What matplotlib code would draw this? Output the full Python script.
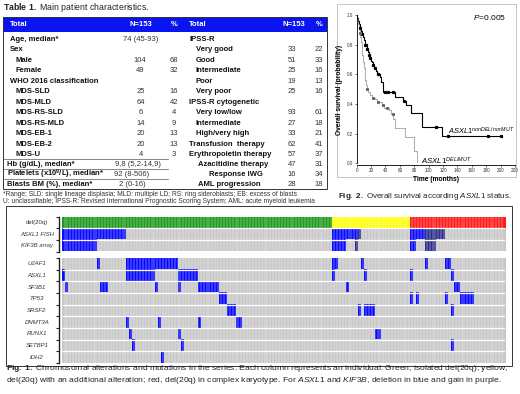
import matplotlib
matplotlib.use('Agg')
import matplotlib.pyplot as plt
import numpy as np
from matplotlib.colors import ListedColormap, BoundaryNorm
from matplotlib.patches import Rectangle

plt.rcParams['font.family'] = ['Liberation Sans', 'DejaVu Sans']
plt.rcParams['mathtext.fontset'] = 'custom'
plt.rcParams['mathtext.rm'] = 'Liberation Sans'
plt.rcParams['mathtext.it'] = 'Liberation Sans:italic'
plt.rcParams['mathtext.bf'] = 'Liberation Sans:bold'

# ---------------- Table data ----------------
left_labels = ["Age, median*", "Sex", "Male", "Female", "WHO 2016 classification",
               "MDS-SLD", "MDS-MLD", "MDS-RS-SLD", "MDS-RS-MLD", "MDS-EB-1", "MDS-EB-2",
               "MDS-U", "Hb (g/dL), median*", r"Platelets (x10$^\mathbf{9}$/L), median*",
               "Blasts BM (%), median*"]
left_indent = [0, 0, 1, 1, 0, 1, 1, 1, 1, 1, 1, 1, 0, 0, 0]
left_n = ["74 (45-93)", "", "104", "49", "", "25", "64", "6", "14", "20", "20", "4",
          "9,8 (5,2-14,9)", "92 (8-506)", "2 (0-16)"]
left_pct = ["", "", "68", "32", "", "16", "42", "4", "9", "13", "13", "3", "", "", ""]

right_labels = ["IPSS-R", "Very good", "Good", "Intermediate", "Poor", "Very poor",
                "IPSS-R cytogenetic", "Very low/low", "Intermediate", "High/very high",
                "Transfusion  therapy", "Erythropoietin therapy", "Azacitidine therapy",
                "Response IWG", "AML progression"]
right_indent = [0, 1, 1, 1, 1, 1, 0, 1, 1, 1, 0, 0, 1, 2, 1]
right_n = ["", "33", "51", "25", "19", "25", "", "93", "27", "33", "62", "57", "47", "16", "28"]
right_pct = ["", "22", "33", "16", "13", "16", "", "61", "18", "21", "41", "37", "31", "34", "18"]

# ---------------- Survival data ----------------
solid_t = [0, 1, 2, 3, 4, 5, 6, 7, 8, 9, 10, 11, 12, 14, 15, 16, 17, 18, 20, 21, 22, 24,
           27, 28, 32, 34, 36, 37, 53, 64, 69, 75, 91, 118]
solid_s = [1.0, 0.98, 0.96, 0.94, 0.93, 0.91, 0.89, 0.88, 0.87, 0.85, 0.83, 0.82, 0.80,
           0.79, 0.77, 0.75, 0.73, 0.71, 0.69, 0.68, 0.66, 0.64, 0.62, 0.60, 0.58, 0.55,
           0.52, 0.48, 0.45, 0.42, 0.39, 0.34, 0.245, 0.185]
solid_end = 200
solid_censor = [5, 8, 12, 13, 15, 17, 19, 23, 26, 30, 40, 44, 51, 66, 110, 127, 183, 200]

dotted_t = [0, 1, 2, 3, 4, 5, 6, 7, 8, 9, 10, 11, 12, 13, 14, 16, 18, 21, 25, 28, 35, 38,
            45, 48, 51, 53, 67, 80, 84]
dotted_s = [1.0, 0.97, 0.94, 0.91, 0.88, 0.85, 0.82, 0.78, 0.73, 0.68, 0.64, 0.60, 0.56,
            0.53, 0.50, 0.48, 0.46, 0.44, 0.43, 0.41, 0.39, 0.37, 0.36, 0.33, 0.30, 0.24,
            0.18, 0.083, 0.0]
dotted_censor = [4, 15, 22, 30, 37, 42, 50]

# ---------------- Heatmap data ----------------
group_counts = [93, 27, 33]            # green, yellow, red patients
top_rows = ["del(20q)", "ASXL1 FISH", "KIF3B array"]
asxl1_fish_del = [(0, 21), (93, 101), (120, 124)]
asxl1_fish_gain = [(102, 102), (125, 131)]
kif3b_del = [(0, 11), (93, 97), (120, 121)]
kif3b_gain = [(101, 101), (125, 128)]

genes = ["U2AF1", "ASXL1", "SF3B1", "TP53", "SRSF2", "DNMT3A", "RUNX1", "SETBP1", "IDH2"]
gene_mut = {
    "U2AF1": [(12, 12), (22, 39), (93, 94), (103, 103), (125, 125), (132, 133)],
    "ASXL1": [(0, 0), (22, 31), (40, 46), (93, 93), (104, 104), (120, 120), (134, 134)],
    "SF3B1": [(1, 1), (13, 15), (32, 32), (40, 40), (47, 53), (98, 98), (135, 136)],
    "TP53": [(54, 56), (120, 120), (122, 122), (132, 132), (137, 141)],
    "SRSF2": [(57, 59), (102, 102), (104, 107), (134, 134)],
    "DNMT3A": [(22, 22), (33, 33), (47, 47), (60, 61)],
    "RUNX1": [(23, 23), (40, 40), (108, 109)],
    "SETBP1": [(24, 24), (41, 41), (134, 134)],
    "IDH2": [(34, 34)],
}

# ---------------- Figure ----------------
W, H = 520, 394
fig = plt.figure(figsize=(W / 100, H / 100), dpi=100)
ax0 = fig.add_axes([0, 0, 1, 1])
ax0.set_xlim(0, W)
ax0.set_ylim(H, 0)
ax0.axis('off')

def T(x, y, s, **kw):
    kw.setdefault('va', 'center')
    kw.setdefault('fontsize', 5.5)
    ax0.text(x, y, s, **kw)

# ---- Table ----
T(3, 7, r"$\mathbf{Table\ 1.}$ Main patient characteristics.", fontsize=6.3, color='#222222')
ax0.add_patch(Rectangle((3, 17), 324, 15, facecolor='#0a14f0', edgecolor='none'))
ax0.add_patch(Rectangle((3, 17), 324, 172, facecolor='none', edgecolor='#333333', lw=0.7))
hdr = dict(color='white', fontweight='bold', fontsize=5.5)
T(10, 24.5, "Total", **hdr)
T(141, 24.5, "N=153", ha='center', **hdr)
T(174, 24.5, "%", ha='center', **hdr)
T(189, 24.5, "Total", **hdr)
T(294, 24.5, "N=153", ha='center', **hdr)
T(319, 24.5, "%", ha='center', **hdr)

row_y = [39, 49.5, 60, 70.5, 81, 91.5, 102, 112.5, 123, 133.5, 144, 154.5, 164, 174, 184]
left_x = [10, 16]
left_n_x = [141, 141, 140, 140, 140, 141, 141, 141, 141, 141, 141, 141, 138, 132, 132]
for i, y in enumerate(row_y):
    lx = 7 if i >= 12 else left_x[left_indent[i]]
    T(lx, y, left_labels[i], fontweight='bold', color='#111111')
    T(left_n_x[i], y, left_n[i], ha='center', color='#333333')
    T(174, y, left_pct[i], ha='center', color='#333333')
    rx = [189, 196, 209][right_indent[i]]
    if i == 12 or i == 14:
        rx = 198
    T(rx, y, right_labels[i], fontweight='bold', color='#111111')
    T(292, y, right_n[i], ha='center', color='#333333')
    T(319, y, right_pct[i], ha='center', color='#333333')
for yl in [159, 169, 179]:
    ax0.plot([3, 168], [yl, yl], color='#555555', lw=0.5)

T(3, 194, "*Range; SLD: single lineage displasia; MLD: multiple LD; RS: ring sideroblasts; EB: excess of blasts",
  fontsize=4.75, color='#333333')
T(3, 201.5, "U: unclassifiable; IPSS-R: Revised International Prognostic Scoring System; AML: acute myeloid leukemia",
  fontsize=4.75, color='#333333')

# ---- Survival plot ----
ax0.add_patch(Rectangle((337, 4), 179, 173, facecolor='none', edgecolor='#bbbbbb', lw=0.6))
ymin = -0.012
x0, x1 = 356.7, 515
ytop, ybot = 15, 165
axs = fig.add_axes([x0 / W, 1 - ybot / H, (x1 - x0) / W, (ybot - ytop) / H])
axs.set_facecolor('none')
axs.set_xlim(0, 220)
axs.set_ylim(ymin, 1.0)

def step_xy(t, s, end):
    return list(t) + [end], list(s) + [s[-1]]

st, ss = step_xy(solid_t, solid_s, solid_end)
axs.step(st, ss, where='post', color='black', lw=0.8)
dt, ds = step_xy(dotted_t, dotted_s, dotted_t[-1])
axs.step(dt, ds, where='post', color='#777777', lw=0.8, ls=(0, (1, 0.8)))

def surv_at(t, s, q):
    idx = np.searchsorted(np.array(t), np.array(q), side='right') - 1
    return np.array(s)[idx]

axs.plot(solid_censor, surv_at(solid_t, solid_s, solid_censor), ls='none', marker='s',
         ms=1.3, color='black')
axs.plot(dotted_censor, surv_at(dotted_t, dotted_s, dotted_censor), ls='none', marker='s',
         ms=1.2, color='#666666')
axs.set_xticks(np.arange(0, 221, 20))
axs.set_yticks([0.0, 0.2, 0.4, 0.6, 0.8, 1.0])
axs.set_yticklabels(["0.0", "0.2", "0.4", "0.6", "0.8", "1.0"])
axs.tick_params(labelsize=3.3, length=1.5, width=0.5, pad=1, colors='#333333')
for sp in ['top', 'right']:
    axs.spines[sp].set_visible(False)
for sp in ['left', 'bottom']:
    axs.spines[sp].set_linewidth(0.6)
axs.spines['left'].set_bounds(0, 1.0)
axs.set_xlabel("Time (months)", fontsize=4.8, fontweight='bold', labelpad=2)
axs.set_ylabel("Overall survival (probability)", fontsize=4.8, fontweight='bold', labelpad=3)
T(506, 17, r"$\mathit{P}$=0.005", ha='right', fontsize=6.0)
T(448, 131, r"$\mathit{ASXL1}^{\mathit{nonDEL/nonMUT}}$", fontsize=5.4)
T(421, 161, r"$\mathit{ASXL1}^{\mathit{DEL/MUT}}$", fontsize=5.6)
T(338, 196, r"$\mathbf{Fig.\ 2.}$ Overall survival according $\mathit{ASXL1}$ status.",
  fontsize=5.8, color='#222222')

# ---- Heatmap ----
n = sum(group_counts)
cmap = ListedColormap(['#c8c8c8', '#1e9a1e', '#ffff10', '#ff1a1a', '#0a0aff', '#2e2e8c'])
norm = BoundaryNorm(np.arange(-0.5, 6.5, 1), cmap.N)

def fill(row, runs, code):
    for a, b in runs:
        row[a:b + 1] = code

Mt = np.zeros((3, n))
start = 0
for code, cnt in zip([1, 2, 3], group_counts):
    Mt[0, start:start + cnt] = code
    start += cnt
fill(Mt[1], asxl1_fish_del, 4)
fill(Mt[1], asxl1_fish_gain, 5)
fill(Mt[2], kif3b_del, 4)
fill(Mt[2], kif3b_gain, 5)

Mb = np.zeros((len(genes), n))
for i, g in enumerate(genes):
    fill(Mb[i], gene_mut[g], 4)

ax0.add_patch(Rectangle((6, 206), 506, 160, facecolor='none', edgecolor='#333333', lw=0.7))
hx0, hx1 = 61.7, 505
for M, (ya, yb), labels in [(Mt, (216.5, 251.5), top_rows), (Mb, (258, 363), genes)]:
    ax = fig.add_axes([hx0 / W, 1 - yb / H, (hx1 - hx0) / W, (yb - ya) / H])
    ax.set_facecolor('none')
    nr = M.shape[0]
    ax.imshow(M, cmap=cmap, norm=norm, aspect='auto', interpolation='nearest',
              extent=(0, n, nr, 0))
    ax.vlines(np.arange(1, n), 0, nr, color='white', lw=0.35, alpha=0.8)
    ax.hlines(np.arange(1, nr), 0, n, color='white', lw=0.9)
    ax.set_xlim(0, n)
    ax.set_ylim(nr, 0)
    ax.set_xticks([])
    ax.set_yticks(np.arange(nr + 1))
    ax.set_yticklabels([])
    ax.tick_params(axis='y', length=2.5, width=0.8, color='#222222')
    for sp in ['top', 'right', 'bottom']:
        ax.spines[sp].set_visible(False)
    ax.spines['left'].set_position(('outward', 2))
    ax.spines['left'].set_linewidth(1.0)
    ax.spines['left'].set_color('#222222')
    rh = (yb - ya) / nr
    for i, lab in enumerate(labels):
        style = 'normal' if lab == 'del(20q)' else 'italic'
        T(37, ya + rh * (i + 0.5), lab, ha='center', fontsize=4.3, style=style,
          color='#333333')

T(6, 369, r"$\mathbf{Fig.\ 1.}$ Chromosomal alterations and mutations in the series. Each column represents an individual. Green, isolated del(20q); yellow,",
  fontsize=6.1, color='#222222')
T(6, 381, r"del(20q) with an additional alteration; red, del(20q) in complex karyotype. For $\mathit{ASXL1}$ and $\mathit{KIF3B}$, deletion in blue and gain in purple.",
  fontsize=6.1, color='#222222')

fig.savefig('out.png', dpi=100)
